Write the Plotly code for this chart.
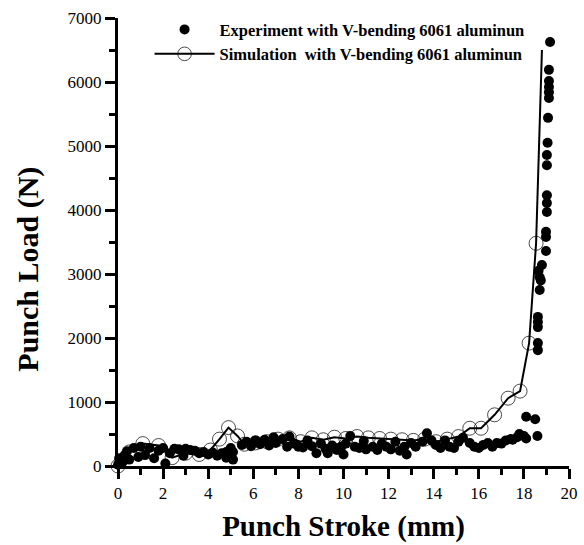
import plotly.graph_objects as go

# Experimental data (filled circles)
exp_x = [0.0, 0.05, 0.2, 0.3, 0.4, 0.5, 0.7, 0.9, 1.0, 1.2, 1.4, 1.6, 1.8, 2.0, 2.1, 2.3, 2.5, 2.7, 2.9,
         3.0, 3.2, 3.4, 3.6, 3.8, 4.0, 4.2, 4.4, 4.6, 4.8, 4.8, 5.0, 5.1, 5.1,
         5.5, 5.7, 5.9, 6.1, 6.3, 6.5, 6.7, 6.9, 7.0, 7.3, 7.5, 7.6,
         7.8, 8.0, 8.2, 8.4, 8.6, 8.8, 9.0, 9.2, 9.3, 9.5, 9.7, 9.9, 10.0, 10.1, 10.3, 10.5, 10.7,
         10.9, 11.0, 11.3, 11.5,
         11.7, 11.9, 12.1, 12.3, 12.5, 12.7, 12.8, 13.0, 13.2, 13.5, 13.7, 13.9, 14.1, 14.3, 14.5,
         14.7, 14.9, 15.1, 15.3,
         15.6, 15.8, 16.0, 16.2, 16.4, 16.6, 16.8, 17.0, 17.2, 17.4, 17.5, 17.7, 17.8, 18.0, 18.1,
         18.1, 18.5, 18.6,
         18.62, 18.62, 18.62, 18.62, 18.62, 18.7, 18.75, 18.7, 18.65, 18.8, 18.98, 18.98, 18.98,
         19.02, 19.02, 19.02, 19.02, 19.02, 19.05, 19.07, 19.11, 19.11, 19.11, 19.11, 19.11, 19.16]
exp_y = [20, 120, 60, 170, 230, 100, 280, 140, 300, 170, 280, 120, 240, 280, 40, 200, 270, 260, 160,
         270, 250, 240, 200, 220, 180, 210, 160, 200, 220, 130, 280, 220, 100,
         330, 380, 310, 400, 340, 410, 320, 450, 360, 420, 300, 460,
         350, 300, 290, 400, 310, 200, 350, 270, 200, 320, 250, 300, 180, 350, 470, 300, 280,
         390, 260, 300, 250,
         350, 300, 260, 380, 240, 300, 180, 360, 300, 380, 510, 400, 330, 280, 400,
         300, 280, 380, 440,
         360, 300, 280, 330, 360, 300, 360, 350, 400, 420, 410, 450, 500, 470, 770,
         430, 730, 470,
         1810, 1920, 2170, 2250, 2330, 2750, 2900, 2950, 3050, 3140, 3360, 3580, 3660,
         3970, 4110, 4230, 4700, 4860, 5050, 5440, 5750, 5840, 5920, 6015, 6190, 6625]

# Simulation data (open circles with line)
sim_x = [0.0, 0.5, 1.1, 1.8, 2.4, 3.0, 3.6, 4.1, 4.5, 4.9, 5.3, 5.6, 6.1, 6.6, 7.1, 7.6, 8.1, 8.6,
         9.1, 9.6, 10.1, 10.6, 11.1, 11.6, 12.1, 12.6, 13.1, 13.6, 14.1, 14.6, 15.1, 15.6, 16.1,
         16.7, 17.3, 17.83, 18.23, 18.54, 18.8]
sim_y = [0, 220, 350, 320, 130, 200, 180, 250, 420, 600, 470, 340, 360, 380, 420, 440, 380, 440,
         410, 450, 430, 460, 440, 430, 420, 410, 400, 420, 380, 420, 460, 590, 590,
         800, 1060, 1170, 1920, 3480, 6500]

x_ticks = [0, 2, 4, 6, 8, 10, 12, 14, 16, 18, 20]
y_ticks = [0, 1000, 2000, 3000, 4000, 5000, 6000, 7000]

serif = "Liberation Serif"
sim_sizes = [14] * (len(sim_x) - 1) + [0]

fig = go.Figure()
fig.add_trace(go.Scatter(
    x=exp_x, y=exp_y, mode="markers",
    name="Experiment with V-bending 6061 aluminun",
    marker=dict(symbol="circle", size=10, color="black"),
    cliponaxis=False,
))
fig.add_trace(go.Scatter(
    x=sim_x, y=sim_y, mode="lines+markers",
    name="Simulation\u00a0\u00a0with V-bending 6061 aluminun",
    line=dict(color="black", width=2),
    marker=dict(symbol="circle-open", size=sim_sizes, color="black", line=dict(width=1)),
    cliponaxis=False,
))

fig.update_layout(
    width=584, height=545,
    margin=dict(l=118, r=15, t=18, b=79),
    paper_bgcolor="white", plot_bgcolor="white",
    font=dict(family=serif, color="black"),
    showlegend=True,
    legend=dict(
        x=0.07, y=1.013, xanchor="left", yanchor="top",
        bgcolor="rgba(0,0,0,0)",
        font=dict(family=serif, size=16.5, weight="bold"),
        itemwidth=60, tracegroupgap=0,
    ),
    xaxis=dict(
        range=[0, 20], tickvals=x_ticks, ticktext=[str(v) for v in x_ticks],
        automargin=False,
        showgrid=False, zeroline=False, showline=True, linecolor="black", linewidth=3,
        ticks="outside", ticklen=10, tickwidth=3, tickcolor="black",
        minor=dict(dtick=1, ticks="outside", ticklen=6, tickwidth=3, tickcolor="black"),
        tickfont=dict(size=17, family=serif),
        title=dict(text="Punch Stroke (mm)", font=dict(size=29, family=serif, weight="bold"), standoff=14),
    ),
    yaxis=dict(
        range=[0, 7000], tickvals=y_ticks, ticktext=[str(v) for v in y_ticks],
        automargin=False,
        showgrid=False, zeroline=False, showline=True, linecolor="black", linewidth=3,
        ticks="outside", ticklen=10, tickwidth=3, tickcolor="black",
        minor=dict(dtick=500, ticks="outside", ticklen=6, tickwidth=3, tickcolor="black"),
        tickfont=dict(size=17, family=serif),
    ),
    annotations=[dict(
        text="Punch Load (N)", xref="paper", yref="paper",
        x=-0.2, y=0.44, xanchor="center", yanchor="middle", textangle=-90,
        showarrow=False, font=dict(size=30, family=serif, weight="bold"),
    )],
)

fig.write_html("out.html")
